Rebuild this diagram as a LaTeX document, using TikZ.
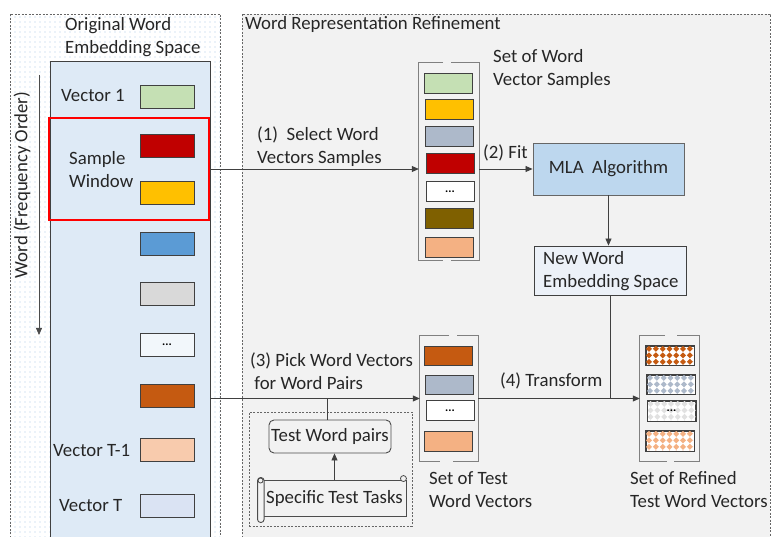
\documentclass[tikz,border=0pt]{standalone}
\usepackage{fontspec}
\setmainfont{Carlito}
\usetikzlibrary{patterns.meta,arrows.meta,calc}
\definecolor{cgreen}{RGB}{197,224,180}
\definecolor{cdred}{RGB}{192,0,0}
\definecolor{cyellow}{RGB}{255,192,0}
\definecolor{cblue}{RGB}{91,155,213}
\definecolor{cgray}{RGB}{217,217,217}
\definecolor{corange}{RGB}{197,90,17}
\definecolor{cpeach}{RGB}{248,203,173}
\definecolor{clav}{RGB}{218,227,243}
\definecolor{cgblue}{RGB}{173,185,202}
\definecolor{colive}{RGB}{127,96,0}
\definecolor{cpeach2}{RGB}{244,177,131}
\definecolor{cmla}{RGB}{189,215,238}
\definecolor{cpanel}{RGB}{242,242,242}
\definecolor{ccol}{RGB}{222,234,246}
\definecolor{cnew}{RGB}{236,241,248}
\definecolor{cdots}{RGB}{170,200,232}
\definecolor{cltgray}{RGB}{225,225,225}
\begin{document}
\begin{tikzpicture}[x=1pt,y=-1pt,font=\fontsize{18.8}{23}\selectfont,
  txt/.style={text=black!85,inner sep=0,align=left},
  vbox/.style={draw=black!75,line width=0.9pt,inner sep=0,minimum width=54pt,minimum height=23pt},
  sbox/.style={draw=black!75,line width=0.9pt,inner sep=0,minimum width=48pt,minimum height=20pt,font=\fontsize{12}{12}\selectfont\bfseries},
  stackbox/.style={inner sep=0,draw=none},
  bracket/.style={draw=black!50,line width=1.3pt},
  conn/.style={draw=black!75,line width=0.8pt},
  arr/.style={conn,-{Triangle[length=7pt,width=6pt]}},
  frame/.style={draw=black!60,line width=0.7pt,dash pattern=on 2pt off 1.5pt}
]
\useasboundingbox (0,0) rectangle (772,537);
% left outer box
\fill[white] (10,14) rectangle (220,545);
\fill[pattern={Dots[distance=5pt,radius=0.6pt]},pattern color=cdots] (10,14) rectangle (220,545);
\draw[frame] (10,545) -- (10,14) -- (220,14) -- (220,545);
\node[txt,anchor=west] (origt) at (65,37.5) {Original Word\\Embedding Space};
% inner column
\node[draw=black!75,line width=0.9pt,fill=ccol,minimum width=160pt,minimum height=484pt,inner sep=0] (col) at (130.5,303) {};
% frequency arrow
\coordinate (wt) at (39,75);
\coordinate (wb) at (39,335);
\draw[arr,draw=black!70] (wt) -- (wb);
\node[txt,rotate=90] (wlab) at (22,185) {Word (Frequency Order)};
% vectors
\node[vbox,fill=cgreen] (v1) at (167,96.5) {};
\node[txt,anchor=west] (v1l) at (61,96) {Vector 1};
\node[vbox,fill=cdred] (v2) at (167,145.5) {};
\node[vbox,fill=cyellow] (v3) at (167,192.5) {};
\node[vbox,fill=cblue] (v4) at (167,243.5) {};
\node[vbox,fill=cgray] (v5) at (167,294) {};
\node[vbox,fill=ccol!40!white,font=\fontsize{12}{12}\selectfont\bfseries] (v6) at (167,344.5) {...};
\node[vbox,fill=corange] (v7) at (167,395.5) {};
\node[vbox,fill=cpeach] (v8) at (167,449.5) {};
\node[txt,anchor=west] (v8l) at (53,451) {Vector T-1};
\node[vbox,fill=clav] (v9) at (167,505.5) {};
\node[txt,anchor=west] (v9l) at (59,506) {Vector T};
% sample window
\node[draw=red,line width=2pt,minimum width=160pt,minimum height=102pt,inner sep=0] (win) at (129,169) {};
\node[txt,anchor=west] (winl) at (69,169.5) {Sample\\Window};
% right panel
\fill[cpanel] (242,14) rectangle (770,545);
\draw[frame] (242,545) -- (242,14) -- (770,14) -- (770,545);
\node[txt,anchor=west] (rtitle) at (245,24) {Word Representation Refinement};
% stack 1
\node[stackbox,minimum width=60pt,minimum height=197pt] (s1) at (449,161.5) {};
\draw[bracket] ($(s1.north)+(-6,0)$) -| (s1.south west) -- ($(s1.south)+(-6,0)$);
\draw[bracket] ($(s1.north)+(2,0)$) -| (s1.south east) -- ($(s1.south)+(2,0)$);
\node[sbox,fill=cgreen] (a1) at (448.5,83.5) {};
\node[sbox,fill=cyellow] (a2) at (449.5,109) {};
\node[sbox,fill=cgblue] (a3) at (449,136) {};
\node[sbox,fill=cdred] (a4) at (450,163) {};
\node[sbox,fill=white] (a5) at (450,191.5) {...};
\node[sbox,fill=colive] (a6) at (449,218.5) {};
\node[sbox,fill=cpeach2] (a7) at (449,247) {};
\node[txt,anchor=west] (s1l) at (493,68.5) {Set of Word\\Vector Samples};
% MLA
\node[draw=black!60,line width=0.9pt,fill=cmla,minimum width=151pt,minimum height=52pt,inner sep=0,text=black!85] (mla) at (608.5,169) {MLA\ \ Algorithm};
% new word embedding
\node[draw=black!75,line width=0.9pt,fill=cnew,minimum width=152pt,minimum height=49pt,inner sep=0] (new) at (610,270.5) {};
\node[txt,anchor=west] (newl) at (543,271.5) {New Word\\Embedding Space};
% arrows 1 and 2
\draw[arr] (win.east) -- (win.east -| s1.west);
\node[txt,anchor=west] (l1) at (257,146.5) {(1)\ \ Select Word\\Vectors Samples};
\draw[arr] (s1.east |- mla.west) -- (mla.west);
\node[txt,anchor=west] (l2) at (483,153) {(2) Fit};
\draw[arr] (mla.south) -- (mla.south |- new.north);
% stack 2
\node[stackbox,minimum width=58pt,minimum height=125pt] (s2) at (449,398.5) {};
\draw[bracket] ($(s2.north)+(0,0)$) -| (s2.south west) -- ($(s2.south)+(-9,0)$);
\draw[bracket] ($(s2.north)+(8,0)$) -| (s2.south east) -- ($(s2.south)+(4,0)$);
\node[sbox,fill=corange,minimum height=19pt] (b1) at (448.5,355.5) {};
\node[sbox,fill=cgblue,minimum height=19pt] (b2) at (449,384.5) {};
\node[sbox,fill=white] (b3) at (450,410.5) {...};
\node[sbox,fill=cpeach2] (b4) at (448.5,441) {};
\node[txt,anchor=west] (s2l) at (429,489.5) {Set of Test\\Word Vectors};
% stack 3
\node[stackbox,minimum width=59pt,minimum height=125pt] (s3) at (669.5,398.5) {};
\draw[bracket] ($(s3.north)+(-4.5,0)$) -| (s3.south west) -- ($(s3.south)+(-2.5,0)$);
\draw[bracket] ($(s3.north)+(7.5,0)$) -| (s3.south east) -- ($(s3.south)+(4.5,0)$);
\node[sbox,fill=white,minimum height=19pt] (c1) at (670,355.5) {};
\node[sbox,fill=white,minimum height=19pt] (c2) at (671,384.5) {};
\node[sbox,fill=white] (c3) at (671.5,411) {};
\node[sbox,fill=white] (c4) at (670,441) {};
\foreach \n/\c in {c1/corange,c2/cgblue,c3/cltgray,c4/cpeach2}{
  \begin{scope}
    \clip (\n.north west) rectangle (\n.south east);
    \foreach \i in {0,...,7}{
      \foreach \j in {0,...,3}{
        \fill[\c] ($(\n.north west)+(\i*6.8+3.5,\j*6.5+3.3)$) +(0,-3) -- +(3,0) -- +(0,3) -- +(-3,0) -- cycle;
      }
    }
  \end{scope}
  \draw[draw=black!75,line width=0.9pt] (\n.north west) rectangle (\n.south east);
}
\node[inner sep=0,font=\fontsize{12}{12}\selectfont\bfseries] (c3t) at (c3) {...};
\node[txt,anchor=west] (s3l) at (630,489.5) {Set of Refined\\Test Word Vectors};
% arrows 3 and 4
\draw[arr] (col.east |- s2.west) -- (s2.west);
\node[txt,anchor=west] (l3) at (250,371) {(3) Pick Word Vectors\\\ for Word Pairs};
\draw[conn] (new.south) -- (new.south |- s3.west);
\draw[arr] (s2.east) -- (s3.west);
\node[txt,anchor=west] (l4) at (500,381) {(4) Transform};
% test group
\node[frame,minimum width=163pt,minimum height=114pt,inner sep=0] (grp) at (330.5,469) {};
\node[draw=black!70,line width=0.9pt,rounded corners=5pt,minimum width=122pt,minimum height=33pt,inner sep=0,text=black!85] (twp) at (330,436.5) {Test Word pairs};
\draw[conn] ($(twp.north)+(-3,0)$) -- ($(twp.north |- s2.west)+(-3,0)$);
\node[draw=black!70,line width=0.9pt,fill=cpanel,minimum width=143pt,minimum height=36pt,inner sep=0,text=black!85] (scroll) at (334.5,498) {Specific Test Tasks};
\draw[draw=black!70,line width=0.9pt,fill=cpanel,rounded corners=3pt] ($(scroll.north west)+(-5,-2)$) rectangle ($(scroll.south west)+(1.5,6)$);
\draw[draw=black!70,line width=0.8pt] ($(scroll.north west)+(-2,1)$) circle (2.5pt);
\draw[draw=black!70,line width=0.8pt,fill=cpanel] ($(scroll.north east)+(-3,-1)$) circle (3pt);
\draw[arr] (scroll.north) -- (scroll.north |- twp.south);
\end{tikzpicture}
\end{document}
